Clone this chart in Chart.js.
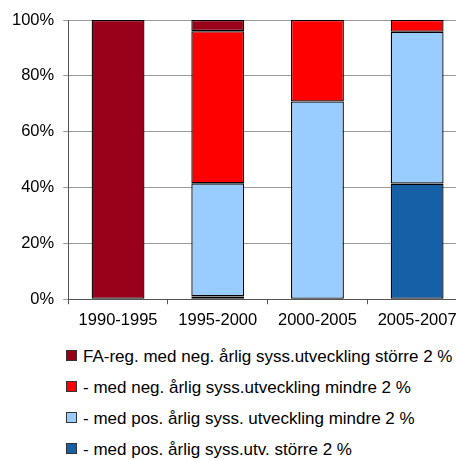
<!DOCTYPE html>
<html>
<head>
<meta charset="utf-8">
<script src="https://cdn.jsdelivr.net/npm/chart.js@4"></script>
<style>
  html, body { margin: 0; padding: 0; background: #fff; overflow: hidden; }
  #wrap { position: relative; width: 477px; height: 344px; }
  #legend { position: absolute; left: 66px; top: 346px; font-family: "Liberation Sans", Arial, sans-serif; font-size: 17px; color: #000; }
  #legend div { height: 31px; line-height: 22px; white-space: nowrap; }
  #legend span.box { display: inline-block; width: 9px; height: 9px; border: 1px solid #333; margin-right: 6px; vertical-align: 1px; }
</style>
</head>
<body>
<div id="wrap"><canvas id="myChart"></canvas></div>
<div id="legend"></div>
<script>
// periods
const periods = ['1990-1995', '1995-2000', '2000-2005', '2005-2007']

// shares in percent, stacked bottom to top
const posLarge = [null, 1, null, 41.4]     // - med pos. årlig syss.utv. större 2 %
const posSmall = [null, 40.5, 70.8, 54.4]  // - med pos. årlig syss. utveckling mindre 2 %
const negSmall = [null, 54.5, 29.2, 4.2]   // - med neg. årlig syss.utveckling mindre 2 %
const negLarge = [100, 4, null, null]      // FA-reg. med neg. årlig syss.utveckling större 2 %

const yTicks = [0, 20, 40, 60, 80, 100]

const series = [
    { label: '- med pos. årlig syss.utv. större 2 %', data: posLarge, color: '#1560a6' },
    { label: '- med pos. årlig syss. utveckling mindre 2 %', data: posSmall, color: '#99ccff' },
    { label: '- med neg. årlig syss.utveckling mindre 2 %', data: negSmall, color: '#ff0000' },
    { label: 'FA-reg. med neg. årlig syss.utveckling större 2 %', data: negLarge, color: '#990019' }
]

const font = { family: '"Liberation Sans", Arial, sans-serif', size: 16.5 }

const ctx = document.getElementById('myChart')
const chart = new Chart(ctx, {
    type: 'bar',
    data: {
        labels: periods,
        datasets: series.map(s => ({
            label: s.label,
            data: s.data,
            backgroundColor: s.color,
            borderColor: '#000',
            borderWidth: 1.3,
            borderSkipped: false,
            barPercentage: 0.53,
            categoryPercentage: 1.0
        }))
    },
    options: {
        responsive: true,
        maintainAspectRatio: false,
        animation: false,
        layout: { padding: { left: 3, top: 20, right: 10, bottom: 8 } },
        plugins: {
            legend: { display: false },
            tooltip: { enabled: false }
        },
        scales: {
            x: {
                stacked: true,
                grid: { drawOnChartArea: false, drawTicks: true, tickLength: 5, color: '#555' },
                border: { color: '#555', width: 1 },
                ticks: { color: '#000', font: font, padding: 6, maxRotation: 0 }
            },
            y: {
                stacked: true,
                min: 0,
                max: 100,
                afterBuildTicks: axis => { axis.ticks = yTicks.map(v => ({ value: v })) },
                grid: { color: '#999', tickLength: 5 },
                border: { color: '#555', width: 1 },
                ticks: { color: '#000', font: font, padding: 9, callback: v => v + '%' }
            }
        }
    }
})

// legend, top to bottom in reverse stacking order
const legend = document.getElementById('legend')
series.slice().reverse().forEach(s => {
    let d = document.createElement('div')
    let b = document.createElement('span')
    b.className = 'box'
    b.style.background = s.color
    d.appendChild(b)
    d.appendChild(document.createTextNode(s.label))
    legend.appendChild(d)
})
</script>
</body>
</html>
